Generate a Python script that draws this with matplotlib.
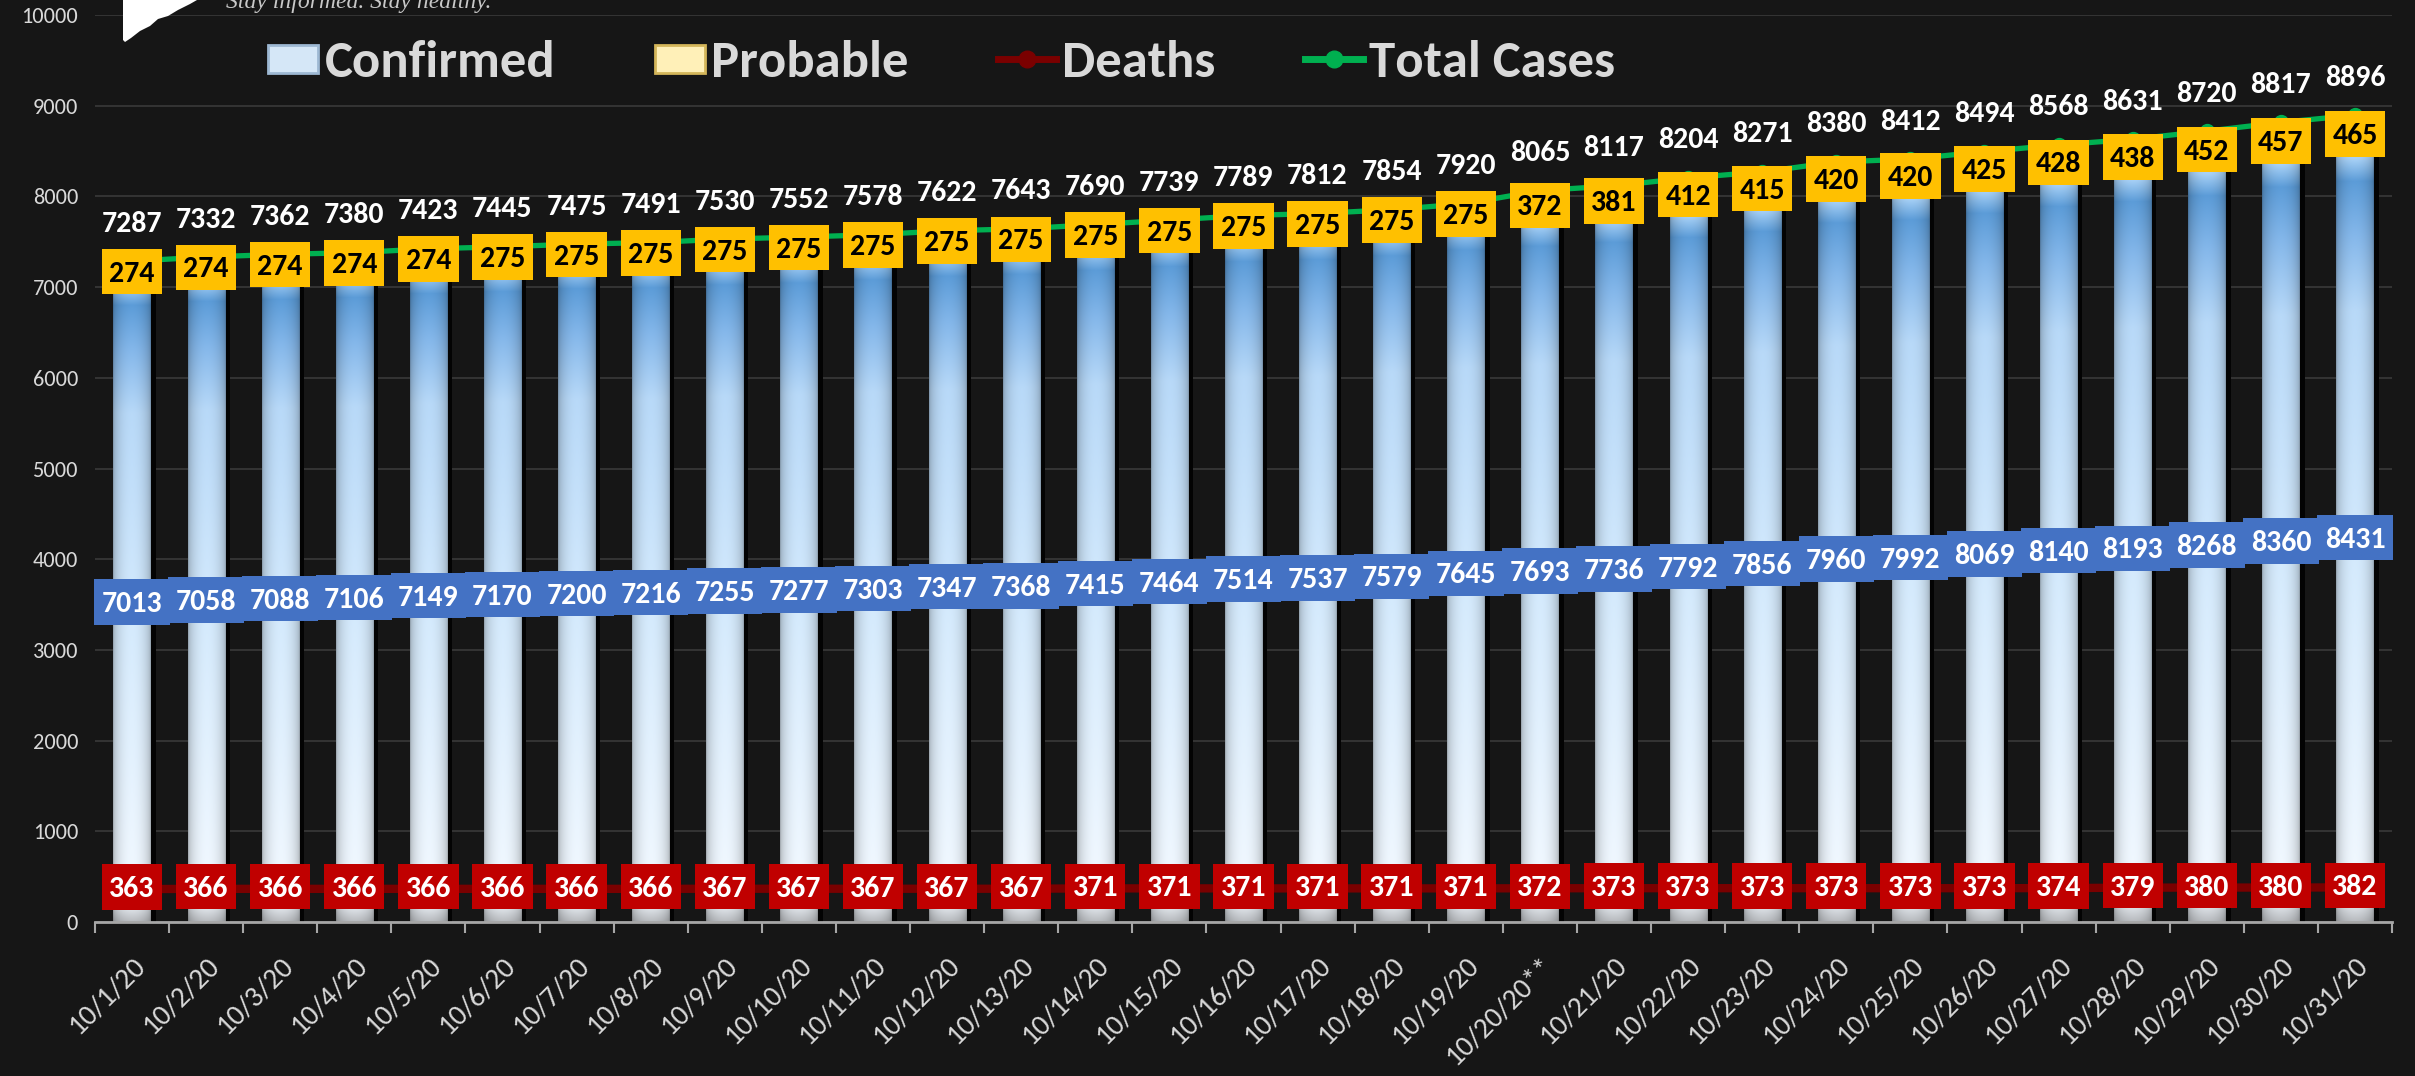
import numpy as np
import matplotlib
matplotlib.use('Agg')
import matplotlib.pyplot as plt
from matplotlib.patches import Rectangle, Polygon
from matplotlib.lines import Line2D
from matplotlib.path import Path
from matplotlib.legend_handler import HandlerPatch

dates = ['10/1/20', '10/2/20', '10/3/20', '10/4/20', '10/5/20', '10/6/20', '10/7/20',
         '10/8/20', '10/9/20', '10/10/20', '10/11/20', '10/12/20', '10/13/20', '10/14/20',
         '10/15/20', '10/16/20', '10/17/20', '10/18/20', '10/19/20', '10/20/20**',
         '10/21/20', '10/22/20', '10/23/20', '10/24/20', '10/25/20', '10/26/20',
         '10/27/20', '10/28/20', '10/29/20', '10/30/20', '10/31/20']
confirmed = [7013, 7058, 7088, 7106, 7149, 7170, 7200, 7216, 7255, 7277, 7303, 7347, 7368,
             7415, 7464, 7514, 7537, 7579, 7645, 7693, 7736, 7792, 7856, 7960, 7992, 8069,
             8140, 8193, 8268, 8360, 8431]
probable = [274, 274, 274, 274, 274, 275, 275, 275, 275, 275, 275, 275, 275, 275, 275, 275,
            275, 275, 275, 372, 381, 412, 415, 420, 420, 425, 428, 438, 452, 457, 465]
total = [7287, 7332, 7362, 7380, 7423, 7445, 7475, 7491, 7530, 7552, 7578, 7622, 7643, 7690,
         7739, 7789, 7812, 7854, 7920, 8065, 8117, 8204, 8271, 8380, 8412, 8494, 8568, 8631,
         8720, 8817, 8896]
deaths = [363, 366, 366, 366, 366, 366, 366, 366, 367, 367, 367, 367, 367, 371, 371, 371,
          371, 371, 371, 372, 373, 373, 373, 373, 373, 373, 374, 379, 380, 380, 382]
yticks = list(range(0, 10001, 1000))

BG = '#161616'
TXT = '#d9d9d9'
plt.rcParams['font.family'] = ['Carlito', 'Lato', 'DejaVu Sans']


def gradient_fill(ax, rect, stops, colors, z=2):
    # column drawn as a small image: vertical colour ramp, darker at the sides
    x0, y0 = rect.get_x(), rect.get_y()
    w, h = rect.get_width(), rect.get_height()
    rgb = np.array([matplotlib.colors.to_rgb(c) for c in colors])
    t = np.linspace(0, 1, 300)
    col = np.stack([np.interp(t, stops, rgb[:, k]) for k in range(3)], axis=1)
    u = np.linspace(0, 1, 40)
    shade = 0.70 + 0.30 * np.sin(np.pi * u) ** 0.45
    img = col[:, None, :] * shade[None, :, None]
    ax.imshow(np.clip(img, 0, 1), extent=[x0, x0 + w, y0, y0 + h], origin='lower',
              aspect='auto', interpolation='bilinear', zorder=z)


def label_box(x0, y0, width, height, mutation_size):
    # excel-like data label box: fixed height, small side padding
    padx = 0.25 * mutation_size
    half = 0.76 * mutation_size
    cy = y0 + height / 2 + 0.07 * mutation_size
    left, right = x0 - padx, x0 + width + padx
    return Path([(left, cy - half), (right, cy - half), (right, cy + half),
                 (left, cy + half), (left, cy - half)], closed=True)


fig = plt.figure(figsize=(24.15, 10.76), dpi=100, facecolor=BG)
ax = fig.add_axes([0.0393, 0.1431, 0.9512, 0.8429])
ax.set_facecolor(BG)

x = np.arange(len(dates))
width = 0.5

ax.bar(x + 0.07, confirmed, width=width, color='#030303', zorder=1.5)
bars_c = ax.bar(x, confirmed, width=width, color='none', zorder=2)
bars_p = ax.bar(x, probable, width=width, bottom=confirmed, color='none', zorder=2)
for r in bars_c:
    gradient_fill(ax, r, [0, 0.03, 0.45, 0.8, 0.9, 0.97, 1.0],
                  ['#b9bcc0', '#f3f9ff', '#d6ebfd', '#b8d9f8', '#84b7ea', '#5c9cd8', '#a9d2f7'])
for r in bars_p:
    gradient_fill(ax, r, [0, 1], ['#ffe699', '#ffc000'])

ax.plot(x, total, color='#00b050', lw=3.8, marker='o', ms=10, zorder=4)
ax.plot(x, deaths, color='#7a0000', lw=6, zorder=4)

box_kw = dict(ha='center', va='center', fontsize=21.5, fontweight='bold', zorder=6)
for i in x:
    ax.text(i, confirmed[i] / 2, str(confirmed[i]), color='white',
            bbox=dict(boxstyle=label_box, fc='#4472c4', ec='none'), **box_kw)
    ax.text(i, confirmed[i] + probable[i] / 2, str(probable[i]), color='black',
            bbox=dict(boxstyle=label_box, fc='#ffc000', ec='none'), **box_kw)
    ax.text(i, deaths[i], str(deaths[i]), color='white',
            bbox=dict(boxstyle=label_box, fc='#c00000', ec='none'), **box_kw)
    ax.annotate(str(total[i]), (i, total[i]), xytext=(0, 27), textcoords='offset points',
                ha='center', va='center', color='white', fontsize=21.5, fontweight='bold',
                zorder=6)

ax.set_xlim(-0.5, len(dates) - 0.5)
ax.set_ylim(0, 10000)
ax.set_yticks(yticks)
ax.set_yticklabels([str(v) for v in yticks])
ax.yaxis.grid(True, color='#3a3a3a', lw=1.2, zorder=0)
ax.set_axisbelow(True)
ax.tick_params(axis='y', length=0, pad=12, labelsize=16, labelcolor=TXT)

ax.set_xticks(x)
ax.set_xticklabels(dates, rotation=45, ha='right', va='top', rotation_mode='anchor')
ax.set_xticks(np.arange(len(dates) + 1) - 0.5, minor=True)
ax.tick_params(axis='x', which='major', length=0, pad=22, labelsize=21, labelcolor=TXT)
ax.tick_params(axis='x', which='minor', length=8, width=1.5, color='#a6a6a6')
for s in ['top', 'right', 'left']:
    ax.spines[s].set_visible(False)
ax.spines['bottom'].set_color('#a6a6a6')
ax.spines['bottom'].set_linewidth(2)
ax.spines['bottom'].set_zorder(3)


def legend_box(legend, orig_handle, xdescent, ydescent, width, height, fontsize):
    h = height * 0.76
    return Rectangle((-xdescent, -ydescent + (height - h) / 2), width, h)


h_conf = Rectangle((0, 0), 1, 1, fc='#d5e7f7', ec='#9db8d3', lw=2)
h_prob = Rectangle((0, 0), 1, 1, fc='#fff0b8', ec='#d4b65a', lw=2)
h_death = Line2D([], [], color='#7a0000', lw=5, marker='o', ms=12)
h_total = Line2D([], [], color='#00b050', lw=5, marker='o', ms=12)
legend_items = [(h_conf, 'Confirmed', 268, 0.95), (h_prob, 'Probable', 655, 0.95),
                (h_death, 'Deaths', 998, 1.1), (h_total, 'Total Cases', 1305, 1.1)]
for handle, label, left_px, hlen in legend_items:
    fig.legend([handle], [label], loc='center left', bbox_to_anchor=(left_px / 2415, 0.9415),
               frameon=False, borderpad=0, borderaxespad=0, handlelength=hlen,
               handletextpad=0.12, prop={'size': 38, 'weight': 'bold'}, labelcolor=TXT,
               handler_map={Rectangle: HandlerPatch(patch_func=legend_box)})

# logo strip cut at the top edge
logo = Polygon([(123, 1076), (197, 1076), (190, 1072), (178, 1066), (168, 1060), (158, 1057),
                (150, 1050), (140, 1045), (131, 1038), (125, 1034), (123, 1036)],
               closed=True, fc='white', ec='none', transform=None)
fig.patches.append(logo)
fig.text(226 / 2415, 0.998, 'Stay informed. Stay healthy.', ha='left', va='center',
         color='#c8c8c8', fontsize=17, style='italic', family='Liberation Serif')

fig.savefig('out.png', dpi=100, facecolor=BG)
